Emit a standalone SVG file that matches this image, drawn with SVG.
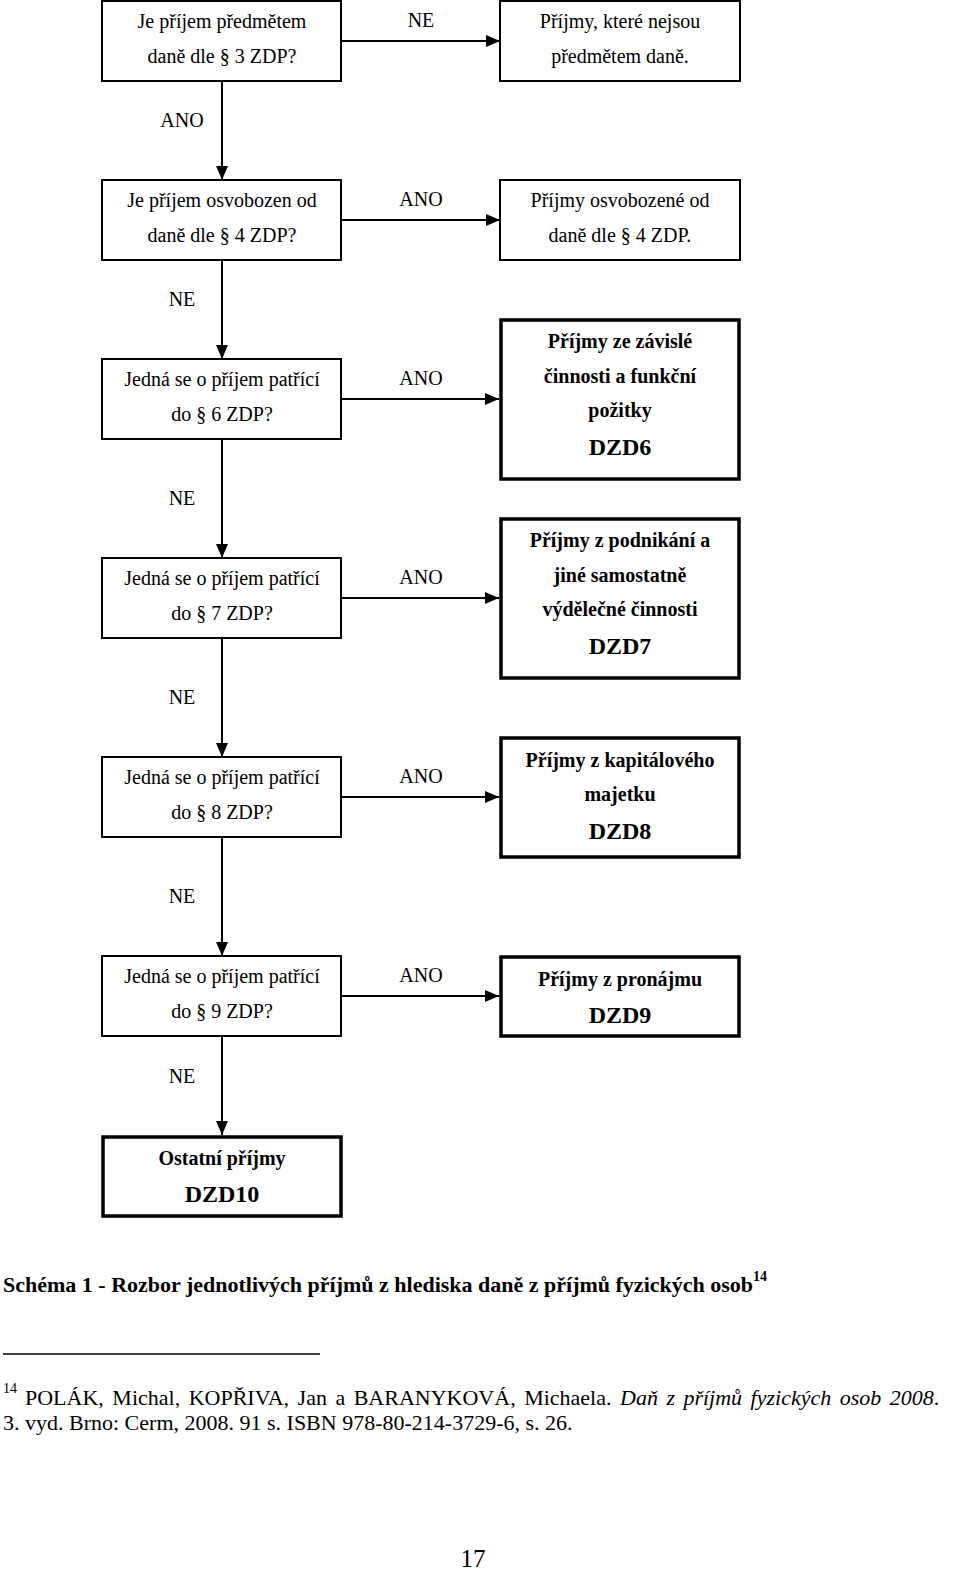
<svg xmlns="http://www.w3.org/2000/svg" width="960" height="1596" viewBox="0 0 960 1596">
<style>
text{font-family:"Liberation Serif","Times New Roman",serif;fill:#000}
.t{font-size:20px;text-anchor:middle}
.b{font-size:20px;font-weight:bold;text-anchor:middle}
.d{font-size:24px;font-weight:bold;text-anchor:middle}
.l{font-size:20px;text-anchor:middle}
.box{fill:#fff;stroke:#000;stroke-width:2}
.bold{fill:#fff;stroke:#000;stroke-width:3.5}
.c{stroke:#000;stroke-width:2;fill:none;marker-end:url(#ah)}
</style>
<defs>
<marker id="ah" markerUnits="userSpaceOnUse" markerWidth="14" markerHeight="12" refX="14" refY="6" orient="auto">
<path d="M0,0 L14,6 L0,12 Z" fill="#000"/>
</marker>
</defs>
<rect width="960" height="1596" fill="#fff"/>
<g id="connectors">
<line class="c" x1="222" y1="81" x2="222" y2="180"/>
<line class="c" x1="222" y1="260" x2="222" y2="359"/>
<line class="c" x1="222" y1="439" x2="222" y2="558"/>
<line class="c" x1="222" y1="638" x2="222" y2="757"/>
<line class="c" x1="222" y1="837" x2="222" y2="956"/>
<line class="c" x1="222" y1="1036" x2="222" y2="1135"/>
<line class="c" x1="341" y1="41" x2="500" y2="41"/>
<line class="c" x1="341" y1="220" x2="500" y2="220"/>
<line class="c" x1="341" y1="399" x2="499" y2="399"/>
<line class="c" x1="341" y1="598" x2="499" y2="598"/>
<line class="c" x1="341" y1="797" x2="499" y2="797"/>
<line class="c" x1="341" y1="996" x2="499" y2="996"/>
<text class="l" x="421" y="27">NE</text>
<text class="l" x="421" y="206">ANO</text>
<text class="l" x="421" y="385">ANO</text>
<text class="l" x="421" y="584">ANO</text>
<text class="l" x="421" y="783">ANO</text>
<text class="l" x="421" y="982">ANO</text>
<text class="l" x="182" y="127">ANO</text>
<text class="l" x="182" y="306">NE</text>
<text class="l" x="182" y="505">NE</text>
<text class="l" x="182" y="704">NE</text>
<text class="l" x="182" y="903">NE</text>
<text class="l" x="182" y="1083">NE</text>
</g>
<g id="q3">
<rect class="box" x="102" y="1" width="239" height="80"/>
<text class="t" x="222" y="28">Je příjem předmětem</text>
<text class="t" x="222" y="63">daně dle § 3 ZDP?</text>
</g>
<g id="r3">
<rect class="box" x="500" y="1" width="240" height="80"/>
<text class="t" x="620" y="28">Příjmy, které nejsou</text>
<text class="t" x="620" y="63">předmětem daně.</text>
</g>
<g id="q4">
<rect class="box" x="102" y="180" width="239" height="80"/>
<text class="t" x="222" y="207">Je příjem osvobozen od</text>
<text class="t" x="222" y="242">daně dle § 4 ZDP?</text>
</g>
<g id="r4">
<rect class="box" x="500" y="180" width="240" height="80"/>
<text class="t" x="620" y="207">Příjmy osvobozené od</text>
<text class="t" x="620" y="242">daně dle § 4 ZDP.</text>
</g>
<g id="q6">
<rect class="box" x="102" y="359" width="239" height="80"/>
<text class="t" x="222" y="386">Jedná se o příjem patřící</text>
<text class="t" x="222" y="421">do § 6 ZDP?</text>
</g>
<g id="r6">
<rect class="bold" x="501" y="320" width="238" height="159"/>
<text class="b" x="620" y="348">Příjmy ze závislé</text>
<text class="b" x="620" y="383">činnosti a funkční</text>
<text class="b" x="620" y="417">požitky</text>
<text class="d" x="620" y="455">DZD6</text>
</g>
<g id="q7">
<rect class="box" x="102" y="558" width="239" height="80"/>
<text class="t" x="222" y="585">Jedná se o příjem patřící</text>
<text class="t" x="222" y="620">do § 7 ZDP?</text>
</g>
<g id="r7">
<rect class="bold" x="501" y="519" width="238" height="159"/>
<text class="b" x="620" y="547">Příjmy z podnikání a</text>
<text class="b" x="620" y="582">jiné samostatně</text>
<text class="b" x="620" y="616">výdělečné činnosti</text>
<text class="d" x="620" y="654">DZD7</text>
</g>
<g id="q8">
<rect class="box" x="102" y="757" width="239" height="80"/>
<text class="t" x="222" y="784">Jedná se o příjem patřící</text>
<text class="t" x="222" y="819">do § 8 ZDP?</text>
</g>
<g id="r8">
<rect class="bold" x="501" y="738" width="238" height="119"/>
<text class="b" x="620" y="767">Příjmy z kapitálového</text>
<text class="b" x="620" y="801">majetku</text>
<text class="d" x="620" y="839">DZD8</text>
</g>
<g id="q9">
<rect class="box" x="102" y="956" width="239" height="80"/>
<text class="t" x="222" y="983">Jedná se o příjem patřící</text>
<text class="t" x="222" y="1018">do § 9 ZDP?</text>
</g>
<g id="r9">
<rect class="bold" x="501" y="957" width="238" height="79"/>
<text class="b" x="620" y="986">Příjmy z pronájmu</text>
<text class="d" x="620" y="1023">DZD9</text>
</g>
<g id="r10">
<rect class="bold" x="103" y="1137" width="238" height="79"/>
<text class="b" x="222" y="1165">Ostatní příjmy</text>
<text class="d" x="222" y="1202">DZD10</text>
</g>
<g id="caption">
<text x="3" y="1292" font-size="22" font-weight="bold">Schéma 1 - Rozbor jednotlivých příjmů z hlediska daně z příjmů fyzických osob<tspan font-size="14" dy="-11">14</tspan></text>
<line x1="3" y1="1354" x2="320" y2="1354" stroke="#000" stroke-width="1.5"/>
<text x="3" y="1393" font-size="14">14</text>
<text x="25" y="1405" font-size="22" word-spacing="3">POLÁK, Michal, KOPŘIVA, Jan a BARANYKOVÁ, Michaela. <tspan font-style="italic">Daň z příjmů fyzických osob 2008</tspan>.</text>
<text x="3" y="1430" font-size="22">3. vyd. Brno: Cerm, 2008. 91 s. ISBN 978-80-214-3729-6, s. 26.</text>
<text x="473" y="1567" font-size="25" text-anchor="middle">17</text>
</g>
</svg>
